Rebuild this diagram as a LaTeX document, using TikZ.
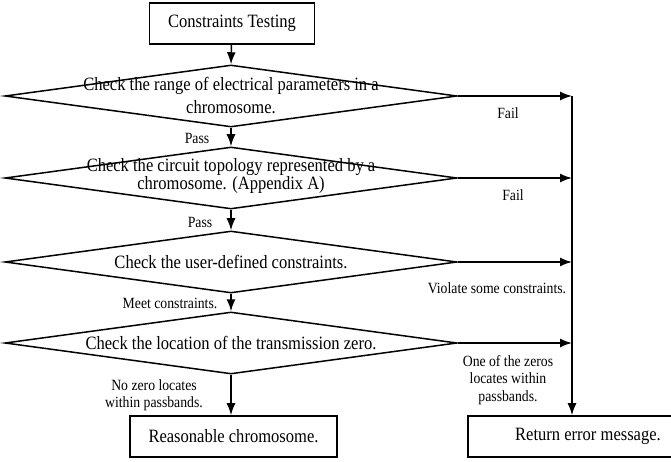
\documentclass[tikz,border=0pt]{standalone}
\usepackage{fontspec}
\setmainfont[FakeStretch=0.88]{Liberation Serif}
\usetikzlibrary{shapes.geometric,arrows.meta,positioning}

\begin{document}
\begin{tikzpicture}[x=1pt, y=-1pt,
  box/.style={draw, line width=1.6pt, minimum height=41pt, inner sep=0pt,
    font=\fontsize{18.8}{23}\selectfont},
  decision/.style={draw, diamond, line width=1.5pt, minimum width=452pt,
    minimum height=62pt, inner sep=0pt},
  txt/.style={align=center, inner sep=0pt, font=\fontsize{18.8}{23}\selectfont},
  lbl/.style={align=center, inner sep=0pt, font=\fontsize{15.6}{17.5}\selectfont},
  flow/.style={-{Latex[length=12pt,width=9pt]}, line width=1.5pt}]
  \useasboundingbox (0,0) rectangle (671,462);
  \clip (0,0) rectangle (671,462);

  % main column
  \node[box, minimum width=165pt] (start) at (232,23.5) {Constraints Testing};
  \node[decision] (d1) at (231,96) {};
  \node[txt] (t1) at (d1.center) {Check the range of electrical parameters in a\\chromosome.};
  \node[decision] (d2) at (231,178) {};
  \node[txt, font=\fontsize{18.8}{15}\selectfont] (t2) at (231,176)
    {Check the circuit topology represented by a\\chromosome. (Appendix A)};
  \node[decision] (d3) at (231,262) {};
  \node[txt] (t3) at (d3.center) {Check the user-defined constraints.};
  \node[decision] (d4) at (231,343) {};
  \node[txt] (t4) at (d4.center) {Check the location of the transmission zero.};
  \node[box, minimum width=207pt] (ok) at (233.5,436.5) {Reasonable chromosome.};
  \node[box, minimum width=240pt] (err) at (588,436.5) {Return error message.};

  % fail column
  \coordinate (f1) at (572,96);
  \coordinate (f2) at (572,178);
  \coordinate (f3) at (572,262);
  \coordinate (f4) at (572,343);

  \draw[flow] (start) -- (d1.north);
  \draw[flow] (d1.south) -- (d2.north);
  \draw[flow] (d2.south) -- (d3.north);
  \draw[flow] (d3.south) -- (d4.north);
  \draw[flow] (d4.south) -- (ok.north -| d4.south);
  \draw[flow] (d1.east) -- (f1);
  \draw[flow] (d2.east) -- (f2);
  \draw[flow] (d3.east) -- (f3);
  \draw[flow] (d4.east) -- (f4);
  \draw[flow] (f1) -- (f1 |- err.north);

  % labels
  \node[lbl] (pass1) at (197,138) {Pass};
  \node[lbl] (pass2) at (200,222) {Pass};
  \node[lbl] (meet) at (170,303) {Meet constraints.};
  \node[lbl] (nozero) at (154,395) {No zero locates\\within passbands.};
  \node[lbl] (fail1) at (508,113) {Fail};
  \node[lbl] (fail2) at (513,195) {Fail};
  \node[lbl] (violate) at (497,288) {Violate some constraints.};
  \node[lbl] (onezero) at (508,380) {One of the zeros\\locates within\\passbands.};
\end{tikzpicture}
\end{document}
